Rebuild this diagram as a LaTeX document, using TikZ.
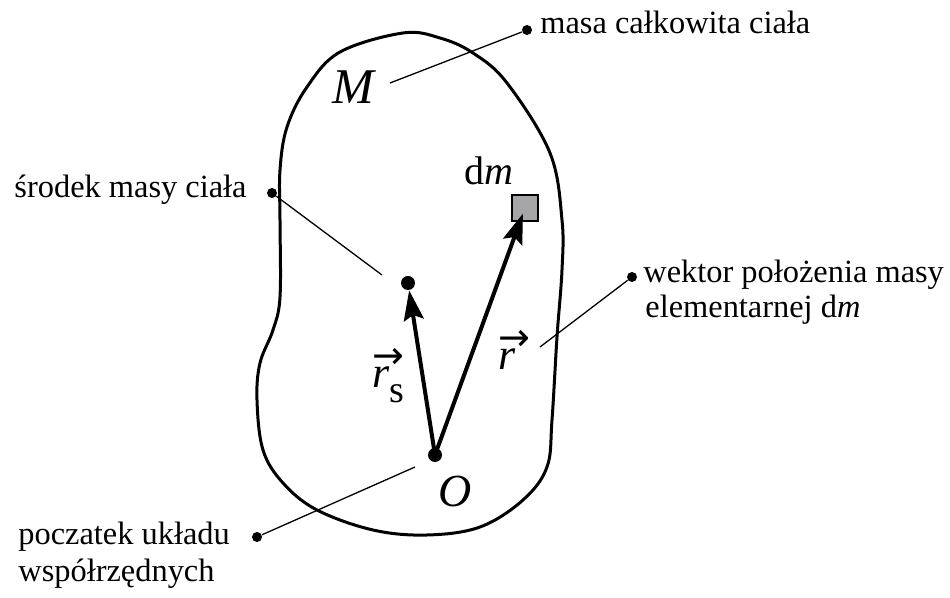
\documentclass[tikz,border=0pt]{standalone}
\usepackage{fontspec}
\setmainfont{Liberation Serif}
\newfontfamily\arrowfont{DejaVu Sans}
\usetikzlibrary{arrows.meta}
\definecolor{sqgray}{RGB}{165,165,168}
\newcommand{\myvecr}{\makebox[0pt][l]{\raisebox{9.5pt}{\arrowfont\fontsize{19}{19}\selectfont →}}\textit{r}}
\begin{document}
\begin{tikzpicture}[x=0.5pt,y=-0.5pt,
  lbl/.style={font=\fontsize{16.2}{17.5}\selectfont, inner sep=0pt},
  sym/.style={inner sep=0pt},
  dot/.style={circle,fill=black,inner sep=0pt,minimum size=5pt},
  bigdot/.style={circle,fill=black,inner sep=0pt,minimum size=7pt},
  leader/.style={line width=0.65pt},
  vec/.style={line width=2pt,-{Stealth[length=15pt,width=10pt,inset=2.5pt]}},
  body/.style={line width=1.5pt}]
\useasboundingbox (0,0) rectangle (950,598);

% body outline
\draw[body] plot[smooth cycle,tension=0.6] coordinates {
  (403,33) (440,38) (473,53) (507,83) (550,153) (562,220) (562,270) (557,337)
  (552,420) (547,467) (523,500) (480,527) (427,535) (373,530) (317,510)
  (283,483) (263,450) (257,400) (260,363) (273,330) (280,297) (280,220)
  (280,170) (287,127) (307,87) (340,52)};

% points
\node[bigdot] (O) at (435,455) {};
\node[bigdot] (S) at (408,283) {};
\node[draw,fill=sqgray,line width=1pt,minimum size=13pt,inner sep=0pt] (dm) at (525,208) {};

% vectors
\draw[vec] (O.center) -- (S);
\draw[vec,shorten >=3pt] (O.center) -- (dm.center);

% symbols
\node[sym,anchor=base,font=\fontsize{25}{25}\selectfont] (Mlab) at (354,104) {\textit{M}};
\node[sym,anchor=base west,font=\fontsize{20}{20}\selectfont] (dmlab) at (464,185) {d\textit{m}};
\node[sym,anchor=base,font=\fontsize{23}{23}\selectfont] (Olab) at (455,507) {\textit{O}};
\node[sym,anchor=base west,font=\fontsize{22}{22}\selectfont] (rslab) at (372,388)
  {\myvecr\raisebox{-7.5pt}{\fontsize{19}{19}\selectfont s}};
\node[sym,anchor=base west,font=\fontsize{22}{22}\selectfont] (rlab) at (498,370)
  {\myvecr};

% leaders and labels
\node[dot] (Mdot) at (527,30) {};
\coordinate (Mend) at (390,83);
\draw[leader] (Mend) -- (Mdot);
\node[lbl,anchor=base west] (Mtxt) at (540,34) {masa całkowita ciała};

\node[dot] (Sdot) at (272,193) {};
\coordinate (Send) at (382,275);
\draw[leader] (Sdot) -- (Send);
\node[lbl,anchor=base east] (Stxt) at (247,198) {środek masy ciała};

\node[dot] (Wdot) at (632,277) {};
\coordinate (Wend) at (540,347);
\draw[leader] (Wend) -- (Wdot);
\node[lbl,anchor=base west] (Wtxt1) at (643,283) {wektor położenia masy};
\node[lbl,anchor=base west] (Wtxt2) at (645,318) {elementarnej d\textit{m}};

\node[dot] (Pdot) at (257,537) {};
\coordinate (Pend) at (415,467);
\draw[leader] (Pend) -- (Pdot);
\node[lbl,anchor=base west] (Ptxt1) at (18,545) {poczatek układu};
\node[lbl,anchor=base west] (Ptxt2) at (18,582) {współrzędnych};
\end{tikzpicture}
\end{document}
